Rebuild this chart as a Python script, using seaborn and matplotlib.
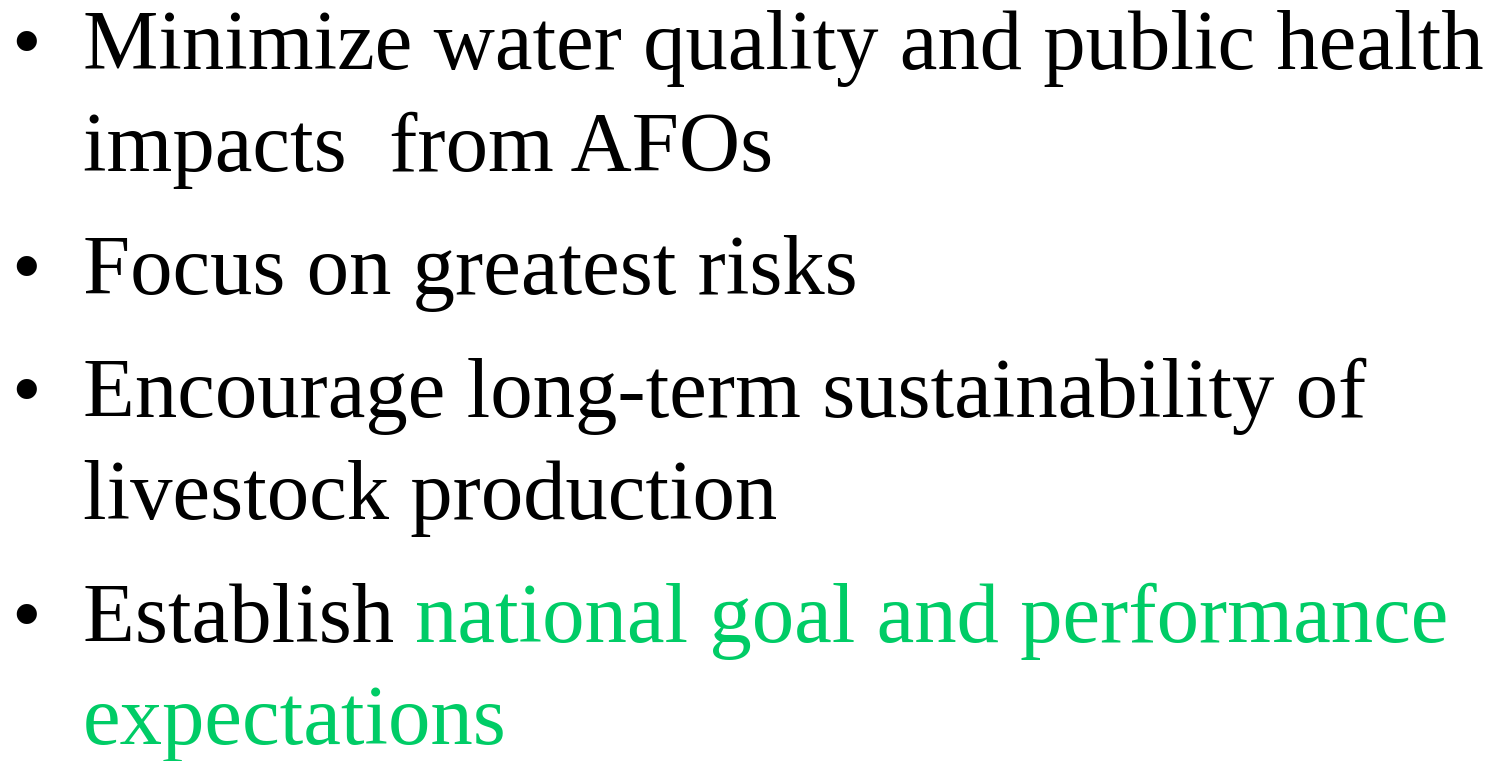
import matplotlib
matplotlib.use("Agg")
import seaborn as sns
from matplotlib import pyplot as plt

# slide content: each bullet is a list of lines, each line a list of (text, colour)
black = "#000000"
green = "#00CC66"
bullets = [
    [[("Minimize water quality and public health", black)],
     [("impacts  from AFOs", black)]],
    [[("Focus on greatest risks", black)]],
    [[("Encourage long-term sustainability of", black)],
     [("livestock production", black)]],
    [[("Establish ", black), ("national goal and performance", green)],
     [("expectations", green)]],
]

sns.set_style("white")
plt.rcParams["font.family"] = ["Liberation Serif", "DejaVu Serif"]

W, H = 1500, 761
fig = plt.figure(figsize=(W / 100, H / 100), dpi=100)
ax = fig.add_axes([0, 0, 1, 1])
ax.set_xlim(0, W)
ax.set_ylim(H, 0)
ax.axis("off")
sns.despine(ax=ax, left=True, bottom=True)

size = 61
text_x = 83
bullet_x = 11
line_gap = 102
para_gap = 123

y = 69
for item in bullets:
    ax.text(bullet_x, y, "\u2022", fontsize=size, va="baseline", ha="left", color=black)
    for line in item:
        prev = None
        for seg, col in line:
            if prev is None:
                prev = ax.text(text_x, y, seg, fontsize=size, va="baseline", ha="left", color=col)
            else:
                prev = ax.annotate(seg, xy=(1, 0), xycoords=prev, va="bottom", ha="left",
                                   fontsize=size, color=col)
        y += line_gap
    y += para_gap - line_gap

fig.savefig("out.png", dpi=100, facecolor="white")
